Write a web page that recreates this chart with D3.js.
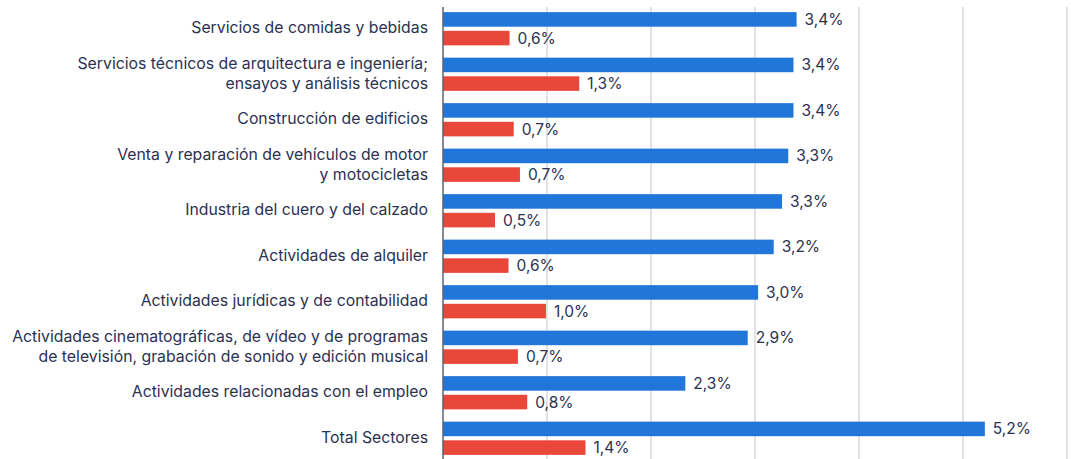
<!DOCTYPE html>
<html>
<head>
<meta charset="utf-8">
<script src="https://cdn.jsdelivr.net/npm/d3@7"></script>
<style>
  body { margin: 0; background: #fff; }
  text { font-family: Inter, "Noto Sans", sans-serif; fill: #2b3152; }
</style>
</head>
<body>
<svg id="chart" width="1071" height="459"></svg>
<script>
// sector names (lines split where the original breaks them)
var categories = [
    ['Servicios de comidas y bebidas'],
    ['Servicios técnicos de arquitectura e ingeniería;', 'ensayos y análisis técnicos'],
    ['Construcción de edificios'],
    ['Venta y reparación de vehículos de motor', 'y motocicletas'],
    ['Industria del cuero y del calzado'],
    ['Actividades de alquiler'],
    ['Actividades jurídicas y de contabilidad'],
    ['Actividades cinematográficas, de vídeo y de programas', 'de televisión, grabación de sonido y edición musical'],
    ['Actividades relacionadas con el empleo'],
    ['Total Sectores']
];
var blueValues = [3.40, 3.37, 3.37, 3.32, 3.26, 3.18, 3.03, 2.93, 2.33, 5.21];
var redValues = [0.64, 1.31, 0.68, 0.74, 0.50, 0.63, 0.99, 0.72, 0.81, 1.37];
var gridTicks = [1, 2, 3, 4, 5, 6];

var svg = d3.select('#chart');
var fmt = function (v) { return d3.format('.1f')(v).replace('.', ',') + '%'; };

var x0 = 443;
var xScale = d3.scaleLinear().domain([0, 6]).range([x0, x0 + 624]);

var idx = d3.range(categories.length);
var yScale = d3.scaleBand().domain(idx).range([6, 461])
    .paddingInner(0.27).paddingOuter(0.135);
var sub = d3.scaleBand().domain(['blue', 'red']).range([0, yScale.bandwidth()])
    .paddingInner(0.22);

var colors = { blue: '#2176d9', red: '#e8473a' };

// gridlines
svg.append('g').selectAll('line')
    .data(gridTicks)
    .enter().append('line')
    .attr('x1', function (d) { return xScale(d); })
    .attr('x2', function (d) { return xScale(d); })
    .attr('y1', 7).attr('y2', 459)
    .attr('stroke', '#d8d8de').attr('stroke-width', 1.5);

var rows = idx.map(function (i) {
    return { i: i, lines: categories[i], blue: blueValues[i], red: redValues[i] };
});

var g = svg.append('g').selectAll('.row')
    .data(rows)
    .enter().append('g')
    .attr('class', 'row')
    .attr('transform', function (d) { return 'translate(0,' + yScale(d.i) + ')'; });

['blue', 'red'].forEach(function (k) {
    g.append('rect')
        .attr('x', xScale(0))
        .attr('y', sub(k))
        .attr('width', function (d) { return xScale(d[k]) - xScale(0); })
        .attr('height', sub.bandwidth())
        .attr('fill', colors[k]);
    g.append('text')
        .attr('x', function (d) { return xScale(d[k]) + 8; })
        .attr('y', sub(k) + sub.bandwidth() / 2)
        .attr('dy', '0.35em')
        .attr('font-size', 15.5)
        .text(function (d) { return fmt(d[k]); });
});

// category labels
g.append('text')
    .attr('text-anchor', 'end')
    .attr('font-size', 15.8)
    .attr('x', 428)
    .attr('y', function (d) {
        return yScale.bandwidth() / 2 - 1 - (d.lines.length - 1) * 10;
    })
    .each(function (d) {
        var t = d3.select(this);
        d.lines.forEach(function (l, j) {
            t.append('tspan').attr('x', 428).attr('dy', j === 0 ? '0.35em' : 20).text(l);
        });
    });

// axis line
svg.append('line')
    .attr('x1', x0).attr('x2', x0)
    .attr('y1', 7).attr('y2', 459)
    .attr('stroke', '#5d6273').attr('stroke-width', 1.5);
</script>
</body>
</html>
